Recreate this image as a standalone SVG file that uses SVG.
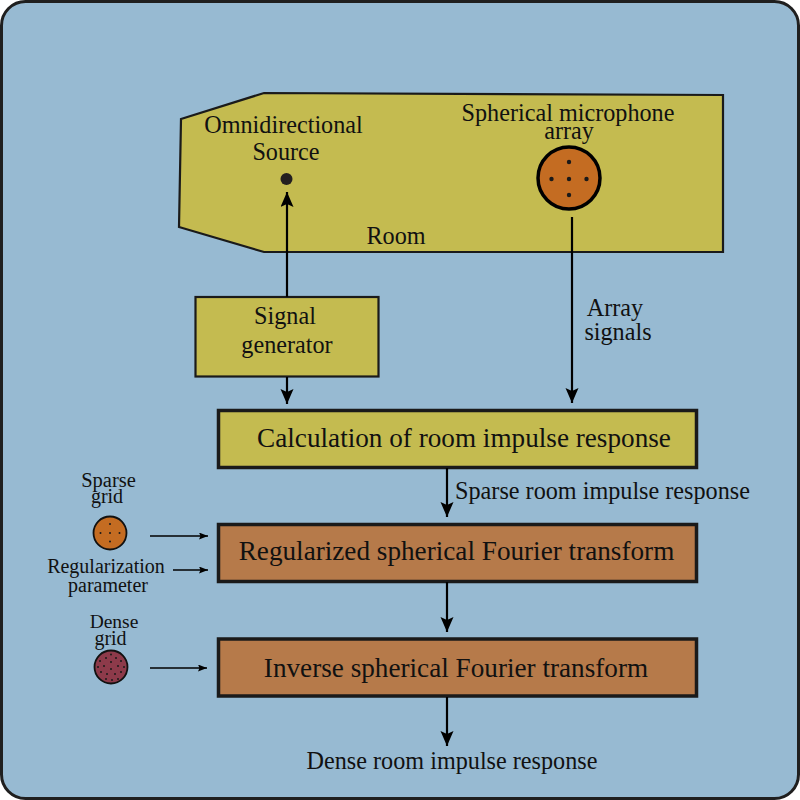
<svg xmlns="http://www.w3.org/2000/svg" width="800" height="800" viewBox="0 0 800 800">
<style>
text{font-family:"Liberation Serif","Times New Roman",serif;fill:#111;text-anchor:middle}
.t22{font-size:24.200px}.t24{font-size:27.200px}.t17{font-size:20px}
.box{stroke:#1a1a1a;stroke-width:3.500}
.olive{fill:#c4bb50}.brown{fill:#b67a4a}
.conn{fill:none;stroke:#000;stroke-width:2.200}
.thin{fill:none;stroke:#000;stroke-width:1.300}
.dot{fill:#1a1a1a}
</style>
<defs>
<marker id="a" markerUnits="userSpaceOnUse" markerWidth="16" markerHeight="14" refX="15" refY="6.500" orient="auto"><path d="M0 0L15 6.500L0 13L3 6.500Z" fill="#000"/></marker>
<marker id="b" markerUnits="userSpaceOnUse" markerWidth="10" markerHeight="8" refX="9" refY="3.500" orient="auto"><path d="M0 0L9 3.500L0 7L1.500 3.500Z" fill="#000"/></marker>
</defs>
<rect id="background" x="1.500" y="1.500" width="797" height="797" rx="24" fill="#97bad2" stroke="#1f1f1f" stroke-width="3"/>
<g id="room">
<path d="M181 119L264 93L723 95V252H264L179 227Z" class="olive" stroke="#1a1a1a" stroke-width="2.200"/>
<text class="t22" x="396" y="244">Room</text>
</g>
<g id="source">
<text class="t22" x="283.500" y="133">Omnidirectional</text>
<text class="t22" x="286" y="160">Source</text>
<circle cx="286.500" cy="179" r="6" fill="#231f20"/>
</g>
<g id="microphone">
<text class="t22" x="568" y="121">Spherical microphone</text>
<text class="t22" x="569" y="139">array</text>
<circle cx="569" cy="178" r="31" fill="#c46c22" stroke="#000" stroke-width="3.500"/>
<g class="dot"><circle cx="569" cy="162" r="2.200"/><circle cx="551.500" cy="179" r="2.200"/><circle cx="569" cy="179" r="2.200"/><circle cx="586.500" cy="179" r="2.200"/><circle cx="569" cy="195" r="2.200"/></g>
</g>
<g id="signal-generator">
<rect x="195.500" y="297" width="183" height="79.500" class="olive" stroke="#1a1a1a" stroke-width="2.200"/>
<text class="t22" x="285" y="324">Signal</text>
<text class="t22" x="287" y="353">generator</text>
</g>
<g id="calculation">
<rect x="218.500" y="410.500" width="478" height="57" class="box olive"/>
<text class="t24" x="464" y="447">Calculation of room impulse response</text>
</g>
<g id="regularized">
<rect x="218.500" y="524.500" width="478" height="57" class="box brown"/>
<text class="t24" x="456.500" y="560">Regularized spherical Fourier transform</text>
</g>
<g id="inverse">
<rect x="218.500" y="639" width="478" height="57" class="box brown"/>
<text class="t24" x="456" y="677">Inverse spherical Fourier transform</text>
</g>
<g id="sparse-grid">
<text class="t17" x="108.500" y="487" style="font-size:20.500px">Sparse</text>
<text class="t17" x="107" y="503">grid</text>
<circle cx="110" cy="533" r="16.500" fill="#c46c22" stroke="#111" stroke-width="1.800"/>
<g class="dot"><circle cx="110" cy="524" r="1"/><circle cx="100.500" cy="533" r="1"/><circle cx="110" cy="533" r="1"/><circle cx="119.500" cy="533" r="1"/><circle cx="110" cy="541.500" r="1"/></g>
</g>
<g id="regularization-parameter">
<text class="t17" x="106" y="573">Regularization</text>
<text class="t17" x="108" y="592">parameter</text>
</g>
<g id="dense-grid">
<text class="t17" x="114" y="628" style="font-size:19.500px">Dense</text>
<text class="t17" x="110.500" y="645">grid</text>
<circle cx="111" cy="667" r="16.500" fill="#8d3a4a" stroke="#111" stroke-width="1.800"/>
<g class="dot"><circle cx="106" cy="658" r="1"/><circle cx="111" cy="654.500" r="1"/><circle cx="116" cy="658" r="1"/><circle cx="121" cy="661" r="1"/><circle cx="100" cy="661" r="1"/><circle cx="111" cy="662" r="1"/><circle cx="98" cy="667" r="1"/><circle cx="104" cy="666" r="1"/><circle cx="118" cy="666" r="1"/><circle cx="124" cy="667" r="1"/><circle cx="111" cy="669" r="1"/><circle cx="101" cy="672" r="1"/><circle cx="107" cy="674" r="1"/><circle cx="115" cy="674" r="1"/><circle cx="121" cy="672" r="1"/><circle cx="106" cy="679" r="1"/><circle cx="112" cy="680" r="1"/><circle cx="118" cy="679" r="1"/></g>
</g>
<g id="connectors">
<path class="conn" d="M287 297V192" marker-end="url(#a)"/>
<path class="conn" d="M287 377V404" marker-end="url(#a)"/>
<path class="conn" d="M572 217V403" marker-end="url(#a)"/>
<path class="conn" d="M447 468V517" marker-end="url(#a)"/>
<path class="conn" d="M447 582V632" marker-end="url(#a)"/>
<path class="conn" d="M447 697V746" marker-end="url(#a)"/>
<path class="thin" d="M150 536H208" marker-end="url(#b)"/>
<path class="thin" d="M173 570H208" marker-end="url(#b)"/>
<path class="thin" d="M150 668H207" marker-end="url(#b)"/>
</g>
<g id="labels">
<text class="t22" x="615" y="316">Array</text>
<text class="t22" x="618" y="340">signals</text>
<text class="t22" x="602.500" y="499">Sparse room impulse response</text>
<text class="t22" x="452" y="769">Dense room impulse response</text>
</g>
</svg>
